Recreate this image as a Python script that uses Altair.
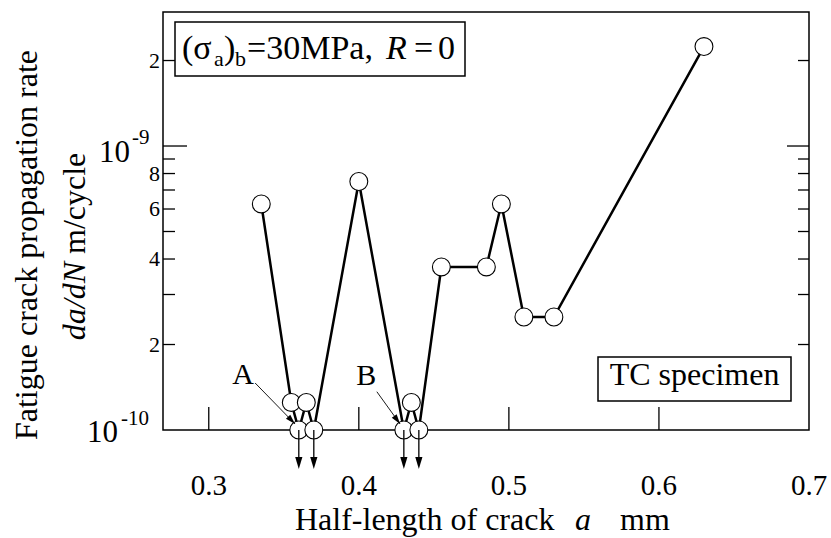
import altair as alt
import pandas as pd

# ---- data ----
crack_a = [0.335, 0.355, 0.36, 0.365, 0.37, 0.40, 0.43, 0.435, 0.44,
           0.455, 0.485, 0.495, 0.51, 0.53, 0.63]
dadn = [6.25e-10, 1.25e-10, 1.0e-10, 1.25e-10, 1.0e-10, 7.5e-10, 1.0e-10,
        1.25e-10, 1.0e-10, 3.75e-10, 3.75e-10, 6.25e-10, 2.5e-10, 2.5e-10,
        2.24e-9]
arrest_a = [0.36, 0.37, 0.43, 0.44]          # points below detection (arrows)
arrest_rate = [1.0e-10, 1.0e-10, 1.0e-10, 1.0e-10]

x_tick_vals = [0.3, 0.4, 0.5, 0.6]
x_label_vals = [0.3, 0.4, 0.5, 0.6, 0.7]
x_label_text = ["0.3", "0.4", "0.5", "0.6", "0.7"]
y_minor_vals = [2e-10, 3e-10, 4e-10, 5e-10, 6e-10, 7e-10, 8e-10, 9e-10, 2e-9]
y_major_vals = [1e-9]
y_minor_label_vals = [2e-10, 4e-10, 6e-10, 8e-10, 2e-9]
y_minor_label_text = ["2", "4", "6", "8", "2"]

# annotation (A, B) labels and leader lines
ann_label = ["A", "B"]
ann_lx = [0.3229, 0.4049]
ann_ly = [1.56e-10, 1.55e-10]
ann_x0 = [0.3309, 0.4120]
ann_y0 = [1.464e-10, 1.364e-10]
ann_x1 = [0.3575, 0.4275]
ann_y1 = [1.05e-10, 1.05e-10]
ann_angle = [46, 54]

W, H = 646, 418
FONT = "'Liberation Serif', 'Times New Roman', Times, serif"

xs = alt.Scale(domain=[0.2695, 0.7], nice=False, zero=False)
ys = alt.Scale(type="log", domain=[1e-10, 2.964e-9], nice=False)

df = pd.DataFrame({"a": crack_a, "r": dadn})
arr = pd.DataFrame({"a": arrest_a, "r": arrest_rate})
one = pd.DataFrame({"k": [0]})

X = lambda f="a": alt.X(f, type="quantitative", scale=xs, axis=None)
Y = lambda f="r": alt.Y(f, type="quantitative", scale=ys, axis=None)

# ticks (inward)
xt = alt.Chart(pd.DataFrame({"a": x_tick_vals})).mark_rule(color="black", strokeWidth=1.3).encode(
    x=X(), y=alt.value(H), y2=alt.value(H - 23))
ymin = pd.DataFrame({"r": y_minor_vals})
ymaj = pd.DataFrame({"r": y_major_vals})
yl_min = alt.Chart(ymin).mark_rule(color="black", strokeWidth=1.3).encode(
    y=Y(), x=alt.value(0), x2=alt.value(12))
yl_maj = alt.Chart(ymaj).mark_rule(color="black", strokeWidth=1.3).encode(
    y=Y(), x=alt.value(0), x2=alt.value(24))
yr_min = alt.Chart(ymin).mark_rule(color="black", strokeWidth=1.3).encode(
    y=Y(), x=alt.value(W), x2=alt.value(W - 11))
yr_maj = alt.Chart(ymaj).mark_rule(color="black", strokeWidth=1.3).encode(
    y=Y(), x=alt.value(W), x2=alt.value(W - 22))

# tick labels
xlab = alt.Chart(pd.DataFrame({"a": x_label_vals, "t": x_label_text})).mark_text(
    font=FONT, fontSize=29, baseline="middle", align="center", color="black").encode(
    x=X(), y=alt.value(474), text="t:N")
ylab = alt.Chart(pd.DataFrame({"r": y_minor_label_vals, "t": y_minor_label_text})).mark_text(
    font=FONT, fontSize=22, baseline="middle", align="right", color="black").encode(
    y=Y(), x=alt.value(-3), text="t:N")
dec = pd.DataFrame({"r": [1e-9]})
dec10 = pd.DataFrame({"r": [1e-10]})
y9a = alt.Chart(dec).mark_text(font=FONT, fontSize=31, baseline="middle", align="right", dy=7).encode(
    y=Y(), x=alt.value(-33), text=alt.value("10"))
y9b = alt.Chart(dec).mark_text(font=FONT, fontSize=21, baseline="middle", align="left", dy=-8).encode(
    y=Y(), x=alt.value(-31), text=alt.value("-9"))
y10a = alt.Chart(dec10).mark_text(font=FONT, fontSize=31, baseline="middle", align="right", dy=3).encode(
    y=Y(), x=alt.value(-45), text=alt.value("10"))
y10b = alt.Chart(dec10).mark_text(font=FONT, fontSize=21, baseline="middle", align="left", dy=-11).encode(
    y=Y(), x=alt.value(-42), text=alt.value("-10"))

# axis titles
tx1 = alt.Chart(one).mark_text(font=FONT, fontSize=32, align="left", baseline="alphabetic").encode(
    x=alt.value(132), y=alt.value(518), text=alt.value("Half-length of crack"))
tx2 = alt.Chart(one).mark_text(font=FONT, fontSize=32, align="left", baseline="alphabetic", fontStyle="italic").encode(
    x=alt.value(412), y=alt.value(518), text=alt.value("a"))
tx3 = alt.Chart(one).mark_text(font=FONT, fontSize=32, align="left", baseline="alphabetic").encode(
    x=alt.value(457), y=alt.value(518), text=alt.value("mm"))
ty1 = alt.Chart(one).mark_text(font=FONT, fontSize=32, align="center", baseline="alphabetic", angle=270).encode(
    x=alt.value(-126), y=alt.value(233), text=alt.value("Fatigue crack propagation rate"))
ty2 = alt.Chart(one).mark_text(font=FONT, fontSize=32, align="right", baseline="alphabetic", angle=270, fontStyle="italic").encode(
    x=alt.value(-78), y=alt.value(250), text=alt.value("da/dN"))
ty3 = alt.Chart(one).mark_text(font=FONT, fontSize=32, align="left", baseline="alphabetic", angle=270).encode(
    x=alt.value(-78), y=alt.value(242), text=alt.value("m/cycle"))

# data line and points
line = alt.Chart(df).mark_line(color="black", strokeWidth=2.5).encode(x=X(), y=Y())
pts = alt.Chart(df).mark_point(shape="circle", filled=True, fill="white", stroke="black",
                               strokeWidth=1.1, size=320, opacity=1).encode(x=X(), y=Y())

# downward arrows under arrested points
stems = alt.Chart(arr).mark_rule(color="black", strokeWidth=1.3).encode(
    x=X(), y=alt.value(H), y2=alt.value(H + 28))
heads = alt.Chart(arr).mark_point(shape="M0,0L-0.6,-2L0.6,-2Z", filled=True, color="black",
                                  size=144, opacity=1).encode(x=X(), y=alt.value(H + 39))

# A / B annotations
ann = pd.DataFrame({"t": ann_label, "lx": ann_lx, "ly": ann_ly, "x0": ann_x0, "y0": ann_y0,
                    "x1": ann_x1, "y1": ann_y1, "ang": ann_angle})
ann_txt = alt.Chart(ann).mark_text(font=FONT, fontSize=30, baseline="middle", align="center").encode(
    x=X("lx"), y=Y("ly"), text="t:N")
ann_line = alt.Chart(ann).mark_rule(color="black", strokeWidth=0.9).encode(
    x=X("x0"), y=Y("y0"), x2="x1", y2="y1")
ann_head = alt.Chart(ann).mark_point(shape="M0,0L-2,-0.6L-2,0.6Z", filled=True, color="black",
                                     size=100, opacity=1).encode(
    x=X("x1"), y=Y("y1"), angle=alt.Angle("ang:Q", scale=None))

# text boxes
box1 = alt.Chart(one).mark_rect(fill="white", stroke="black", strokeWidth=1.5).encode(
    x=alt.value(12), x2=alt.value(302), y=alt.value(10), y2=alt.value(64))
box2 = alt.Chart(one).mark_rect(fill="white", stroke="black", strokeWidth=1.5).encode(
    x=alt.value(435), x2=alt.value(628), y=alt.value(345), y2=alt.value(389))

def seg(txt, x, y, size=34, style="normal"):
    return alt.Chart(one).mark_text(font=FONT, fontSize=size, align="left", baseline="alphabetic",
                                    fontStyle=style, color="black").encode(
        x=alt.value(x), y=alt.value(y), text=alt.value(txt))

BL = 47
b1 = [seg("(σ", 19, BL), seg("a", 51, BL + 7, 22), seg(")", 61, BL), seg("b", 72, BL + 7, 22),
      seg("=30MPa,", 84, BL), seg("R", 223, BL, 34, "italic"), seg("=", 251, BL), seg("0", 275, BL)]
b2 = alt.Chart(one).mark_text(font=FONT, fontSize=32, align="center", baseline="alphabetic").encode(
    x=alt.value(531.5), y=alt.value(373), text=alt.value("TC specimen"))

chart = alt.layer(
    xt, yl_min, yl_maj, yr_min, yr_maj, xlab, ylab, y9a, y9b, y10a, y10b,
    tx1, tx2, tx3, ty1, ty2, ty3,
    line, pts, stems, heads, ann_line, ann_head, ann_txt,
    box1, *b1, box2, b2
).properties(
    width=W, height=H,
    autosize=alt.AutoSizeParams(type="none"),
    padding={"left": 163, "top": 12, "right": 22, "bottom": 108},
    background="white",
).configure_view(stroke="black", strokeWidth=1.5, fill="white")

chart.save("out.html", embed_options={"renderer": "svg", "actions": False})
